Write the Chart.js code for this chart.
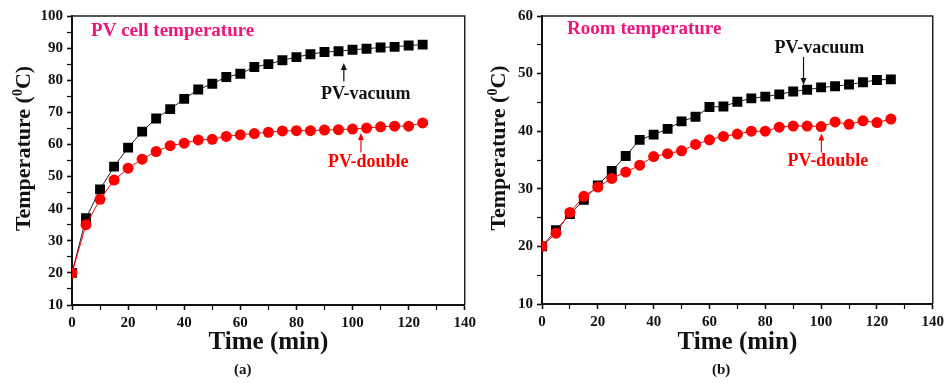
<!DOCTYPE html>
<html>
<head>
<meta charset="utf-8">
<script src="https://cdn.jsdelivr.net/npm/chart.js@4.4.1/dist/chart.umd.min.js"></script>
<style>
  body { margin: 0; background: #fff; }
  #wrap { position: relative; width: 948px; height: 385px; overflow: hidden; }
  canvas { position: absolute; top: 0; }
  .cap { position: absolute; font: bold 15px "Liberation Serif", serif; color: #111; }
</style>
</head>
<body>
<div id="wrap">
  <canvas id="left" width="480" height="385" style="left:0"></canvas>
  <canvas id="right" width="474" height="385" style="left:474px"></canvas>
  <div class="cap" style="left:234px; top:361px">(a)</div>
  <div class="cap" style="left:712px; top:361px">(b)</div>
</div>
<script>
// time axis (min)
const times = [0, 5, 10, 15, 20, 25, 30, 35, 40, 45, 50, 55, 60, 65, 70, 75, 80, 85, 90, 95, 100, 105, 110, 115, 120, 125];

// (a) PV cell temperature
const cellVacuum = [20, 37, 46, 53.1, 59, 64, 68.1, 71, 74.2, 77.1, 78.9, 81, 82, 84.1, 85, 86.2, 87.2, 88.1, 88.8, 89, 89.5, 89.8, 90.2, 90.4, 90.8, 91.1];
const cellDouble = [20, 35, 42.9, 48.9, 52.6, 55.4, 57.8, 59.6, 60.4, 61.4, 61.6, 62.5, 63, 63.4, 63.8, 64.2, 64.3, 64.3, 64.5, 64.6, 64.8, 65.1, 65.5, 65.7, 65.7, 66.7];

// (b) room temperature
const roomVacuum = [20, 22.8, 25.6, 28.1, 30.6, 33.1, 35.7, 38.5, 39.4, 40.4, 41.7, 42.5, 44.2, 44.3, 45.1, 45.7, 46, 46.4, 46.9, 47.2, 47.6, 47.8, 48.1, 48.5, 48.9, 49];
const roomDouble = [20, 22.3, 25.9, 28.7, 30.3, 31.8, 32.9, 34.1, 35.6, 36.1, 36.6, 37.7, 38.5, 39.1, 39.5, 40, 40, 40.7, 40.9, 40.9, 40.8, 41.6, 41.2, 41.8, 41.5, 42.1];

const seriesNames = ['PV-double', 'PV-vacuum'];
const SERIF = '"Liberation Serif", "Times New Roman", serif';
const PINK = '#f0157a';

function pts(vals) {
  return times.map((t, i) => ({ x: t, y: vals[i] }));
}

function drawArrow(ctx, x, yBase, yTip, color) {
  const dir = yTip < yBase ? 1 : -1;
  ctx.strokeStyle = color;
  ctx.fillStyle = color;
  ctx.lineWidth = 1.2;
  ctx.beginPath();
  ctx.moveTo(x, yBase);
  ctx.lineTo(x, yTip + dir * 5);
  ctx.stroke();
  ctx.beginPath();
  ctx.moveTo(x, yTip);
  ctx.lineTo(x - 3, yTip + dir * 7);
  ctx.lineTo(x + 3, yTip + dir * 7);
  ctx.closePath();
  ctx.fill();
}

// y title with a raised small 0: "Temperature (0C)"
function drawYTitle(ctx, cx, cy) {
  const big = 'bold 22px ' + SERIF, small = 'bold 14px ' + SERIF;
  const parts = [['Temperature (', big, 0], ['0', small, -8], ['C)', big, 0]];
  let total = 0;
  parts.forEach(p => { ctx.font = p[1]; total += ctx.measureText(p[0]).width; });
  ctx.save();
  ctx.translate(cx, cy);
  ctx.rotate(-Math.PI / 2);
  ctx.fillStyle = '#111';
  ctx.textBaseline = 'alphabetic';
  ctx.textAlign = 'left';
  let x = -total / 2;
  parts.forEach(p => {
    ctx.font = p[1];
    ctx.fillText(p[0], x, 8 + p[2]);
    x += ctx.measureText(p[0]).width;
  });
  ctx.restore();
}

// frame + text labels + arrows
const notes = {
  id: 'notes',
  afterDatasetsDraw(chart, args, opts) {
    const ctx = chart.ctx;
    const xs = chart.scales.x, ys = chart.scales.y;
    const a = chart.chartArea;
    ctx.save();
    ctx.strokeStyle = '#222';
    ctx.lineWidth = 1.5;
    ctx.beginPath();
    ctx.moveTo(a.left, a.top);
    ctx.lineTo(a.right, a.top);
    ctx.lineTo(a.right, a.bottom);
    ctx.stroke();

    drawYTitle(ctx, opts.yTitleX, (a.top + a.bottom) / 2 - 12);

    ctx.textBaseline = 'middle';
    ctx.font = 'bold 19px ' + SERIF;
    ctx.fillStyle = PINK;
    ctx.textAlign = 'left';
    ctx.fillText(opts.title, xs.getPixelForValue(opts.titleAt[0]), ys.getPixelForValue(opts.titleAt[1]));

    ctx.textAlign = 'center';
    ctx.font = 'bold 18px ' + SERIF;
    ctx.fillStyle = '#111';
    ctx.fillText(seriesNames[1], xs.getPixelForValue(opts.vacText[0]), ys.getPixelForValue(opts.vacText[1]));
    ctx.fillStyle = '#ff0000';
    ctx.fillText(seriesNames[0], xs.getPixelForValue(opts.dblText[0]), ys.getPixelForValue(opts.dblText[1]));

    drawArrow(ctx, xs.getPixelForValue(opts.vacArrow[0]), ys.getPixelForValue(opts.vacArrow[1]), ys.getPixelForValue(opts.vacArrow[2]), '#111');
    drawArrow(ctx, xs.getPixelForValue(opts.dblArrow[0]), ys.getPixelForValue(opts.dblArrow[1]), ys.getPixelForValue(opts.dblArrow[2]), '#ff0000');
    ctx.restore();
  }
};

function makeChart(id, vac, dbl, ymin, ymax, padRight, yWidth, xHeight, note) {
  return new Chart(document.getElementById(id), {
    type: 'line',
    data: {
      datasets: [
        {
          label: seriesNames[0],
          data: pts(dbl),
          borderColor: '#ff0000',
          backgroundColor: '#ff0000',
          borderWidth: 1,
          pointStyle: 'circle',
          pointRadius: 5.5,
          pointBorderWidth: 0,
        },
        {
          label: seriesNames[1],
          data: pts(vac),
          borderColor: '#222',
          backgroundColor: '#000',
          borderWidth: 1,
          pointStyle: 'rect',
          pointRadius: 7,
          pointBorderWidth: 0,
        }
      ]
    },
    options: {
      responsive: false,
      animation: false,
      devicePixelRatio: 1,
      layout: { padding: { top: 16, right: padRight, left: 0, bottom: 0 } },
      plugins: { legend: { display: false }, tooltip: { enabled: false }, notes: note },
      scales: {
        x: {
          type: 'linear',
          min: 0, max: 140,
          afterFit: s => { s.height = xHeight; },
          border: { color: '#111', width: 2 },
          grid: {
            drawOnChartArea: false, tickLength: 5, tickColor: '#111',
            tickWidth: c => (c.tick && c.tick.value % 20 === 0 ? 1.6 : 1.2)
          },
          ticks: {
            stepSize: 10, autoSkip: false, maxRotation: 0, padding: 4, color: '#111',
            font: { family: SERIF, size: 15, weight: 'bold' },
            callback: v => (v % 20 === 0 ? v : '')
          },
          title: {
            display: true, text: 'Time (min)', color: '#111',
            font: { family: SERIF, size: 25, weight: 'bold' },
            padding: { top: 0, bottom: 27 }
          }
        },
        y: {
          min: ymin, max: ymax,
          afterFit: s => { s.width = yWidth; },
          border: { color: '#111', width: 2 },
          grid: {
            drawOnChartArea: false, tickLength: 5, tickColor: '#111',
            tickWidth: c => (c.tick && c.tick.value % 10 === 0 ? 1.6 : 1.2)
          },
          ticks: {
            stepSize: 5, autoSkip: false, padding: 4, color: '#111',
            font: { family: SERIF, size: 15, weight: 'bold' },
            callback: v => (v % 10 === 0 ? v : '')
          }
        }
      }
    },
    plugins: [notes]
  });
}

makeChart('left', cellVacuum, cellDouble, 10, 100, 15, 72, 80, {
  title: 'PV cell temperature', titleAt: [6.8, 95.3], yTitleX: 22,
  vacText: [104.7, 75.5], dblText: [105.6, 54.3],
  vacArrow: [96.9, 79.6, 85.4], dblArrow: [103, 57.5, 63.6]
});

makeChart('right', roomVacuum, roomDouble, 10, 60, 14, 68, 81, {
  title: 'Room temperature', titleAt: [9, 57.7], yTitleX: 23,
  vacText: [99.4, 54.3], dblText: [102.4, 34.8],
  vacArrow: [93.7, 52.9, 48], dblArrow: [100.1, 36.3, 39.6]
});
</script>
</body>
</html>
